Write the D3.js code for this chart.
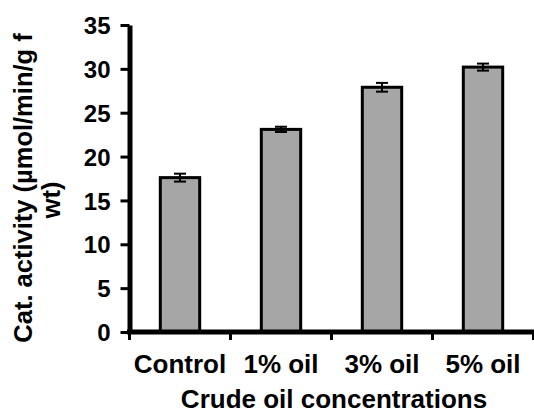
<!DOCTYPE html>
<html>
<head>
<meta charset="utf-8">
<script src="https://cdn.jsdelivr.net/npm/d3@7"></script>
<style>
  body { margin: 0; background: #fff; }
  text { font-family: "Liberation Sans", Arial, sans-serif; font-weight: bold; fill: #000; }
</style>
</head>
<body>
<div id="chart"></div>
<script>
const categories = ["Control", "1% oil", "3% oil", "5% oil"];
const values = [17.6, 23.1, 27.9, 30.2];
const errors = [0.45, 0.3, 0.5, 0.4];
const yTicks = [0, 5, 10, 15, 20, 25, 30, 35];

const width = 534, height = 414;
const margin = {top: 25, right: 0.5, bottom: 82, left: 129.5};

const svg = d3.select("#chart").append("svg")
    .attr("width", width)
    .attr("height", height);

const x = d3.scaleBand()
    .domain(categories)
    .range([margin.left, width - margin.right])
    .paddingInner(0.61)
    .paddingOuter(0.305);

const y = d3.scaleLinear()
    .domain([0, 35])
    .range([height - margin.bottom, margin.top]);

// bars
svg.selectAll("rect.bar")
    .data(values)
    .enter().append("rect")
    .attr("class", "bar")
    .attr("x", (d, i) => x(categories[i]))
    .attr("y", d => y(d))
    .attr("width", x.bandwidth())
    .attr("height", d => y(0) - y(d))
    .attr("fill", "#a6a6a6")
    .attr("stroke", "#000")
    .attr("stroke-width", 3);

// error bars
const eb = svg.selectAll("g.err")
    .data(values)
    .enter().append("g")
    .attr("class", "err")
    .attr("transform", (d, i) => "translate(" + (x(categories[i]) + x.bandwidth() / 2) + ",0)");

eb.append("line")
    .attr("y1", (d, i) => y(d - errors[i]))
    .attr("y2", (d, i) => y(d + errors[i]))
    .attr("stroke", "#000").attr("stroke-width", 2);
eb.append("line")
    .attr("x1", -6).attr("x2", 6)
    .attr("y1", (d, i) => y(d + errors[i]))
    .attr("y2", (d, i) => y(d + errors[i]))
    .attr("stroke", "#000").attr("stroke-width", 2);
eb.append("line")
    .attr("x1", -6).attr("x2", 6)
    .attr("y1", (d, i) => y(d - errors[i]))
    .attr("y2", (d, i) => y(d - errors[i]))
    .attr("stroke", "#000").attr("stroke-width", 2);

// y axis
const yAxis = svg.append("g")
    .attr("transform", "translate(" + margin.left + ",0)")
    .call(d3.axisLeft(y).tickValues(yTicks).tickSize(9).tickPadding(10).tickSizeOuter(0));
yAxis.select(".domain").attr("stroke-width", 5);
yAxis.selectAll(".tick line").attr("stroke-width", 3);
yAxis.selectAll(".tick text").style("font-size", "24px").attr("dy", "0.36em").attr("fill", "#000");

// x axis
const xEdges = d3.range(categories.length + 1).map(i => margin.left + i * x.step());
const xAxis = svg.append("g")
    .attr("transform", "translate(0," + y(0) + ")");
xAxis.append("line")
    .attr("x1", margin.left - 2.5).attr("x2", width)
    .attr("stroke", "#000").attr("stroke-width", 5);
xAxis.selectAll("line.tk")
    .data(xEdges)
    .enter().append("line")
    .attr("class", "tk")
    .attr("x1", d => d).attr("x2", d => d)
    .attr("y1", 0).attr("y2", 8)
    .attr("stroke", "#000").attr("stroke-width", 3);
xAxis.selectAll("text")
    .data(categories)
    .enter().append("text")
    .attr("x", d => x(d) + x.bandwidth() / 2)
    .attr("y", 41)
    .attr("text-anchor", "middle")
    .style("font-size", "26px")
    .text(d => d);

// axis titles
svg.append("text")
    .attr("x", 334)
    .attr("y", 408)
    .attr("text-anchor", "middle")
    .style("font-size", "26px")
    .text("Crude oil concentrations");

const yt = svg.append("text")
    .attr("transform", "translate(32,188) rotate(-90)")
    .attr("text-anchor", "middle")
    .style("font-size", "25.5px");
yt.append("tspan").attr("x", 0).attr("y", 0).text("Cat. activity (µmol/min/g f");
yt.append("tspan").attr("x", -12).attr("y", 28).text("wt)");
</script>
</body>
</html>
